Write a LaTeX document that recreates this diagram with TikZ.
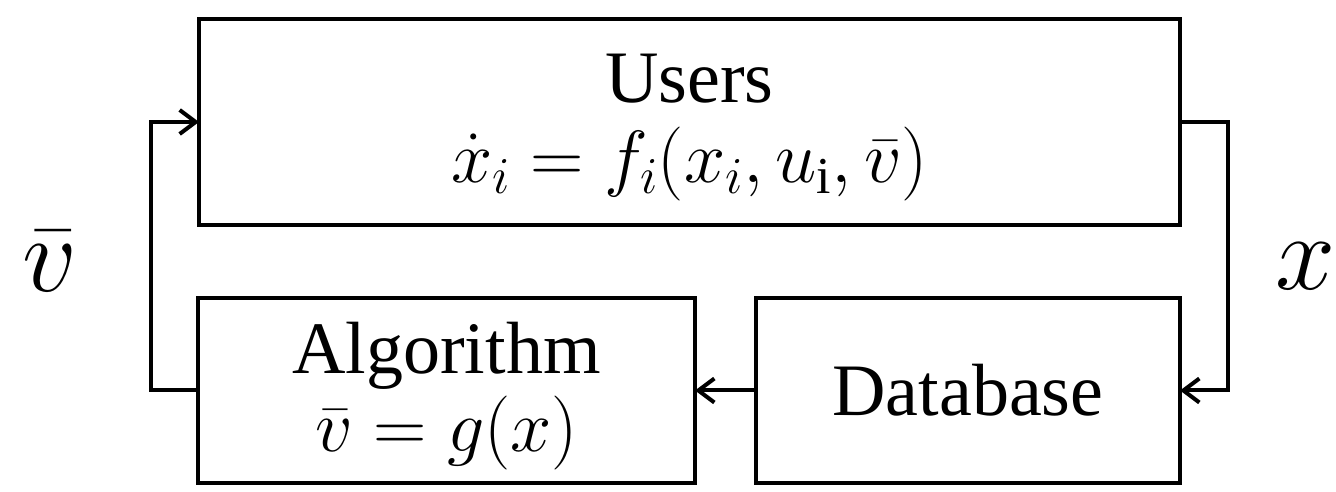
\RequirePackage{fix-cm}
\documentclass[tikz,border=0pt]{standalone}
\usepackage{amsmath}
\usepackage{fontspec}
\setmainfont{Liberation Serif}
\usetikzlibrary{arrows.meta,positioning}

\begin{document}
\begin{tikzpicture}[x=1pt, y=1pt,
  block/.style={draw, line width=4pt, inner sep=0pt, outer sep=0pt, align=center,
    font=\fontsize{74}{82}\selectfont},
  flow/.style={line width=4pt, -{Straight Barb[length=16pt,width=24pt]}},
  sig/.style={inner sep=0pt, anchor=base, font=\fontsize{108}{110}\selectfont}]
  \useasboundingbox (0,0) rectangle (1336,492);

  % top row: the users
  \node[block, minimum width=981pt, minimum height=206pt] (users) at (689.5,370)
    {\rule{0pt}{60pt}Users\\[-2pt]$\dot{x}_i = f_i(x_i, u_{\mathrm{i}}, \bar{v})$};

  % bottom row: algorithm and database
  \node[block, minimum width=497pt, minimum height=185pt] (algo) at (446.5,101.5)
    {\rule{0pt}{62pt}Algorithm\\[-4pt]$\bar{v} = g(x)$};
  \node[block, minimum width=424pt, minimum height=185pt] (db) at (968,101.5)
    {Database};

  % signals on the loop
  \node[sig] (vbar) at (50,200) {$\bar{v}$};
  \node[sig] (xsig) at (1306,202) {$x$};

  % feedback loop
  \draw[flow] (users.east) -- ++(48,0) |- (db.east);
  \draw[flow] (db.west) -- (algo.east);
  \draw[flow] (algo.west) -- ++(-47,0) |- (users.west);
\end{tikzpicture}
\end{document}
